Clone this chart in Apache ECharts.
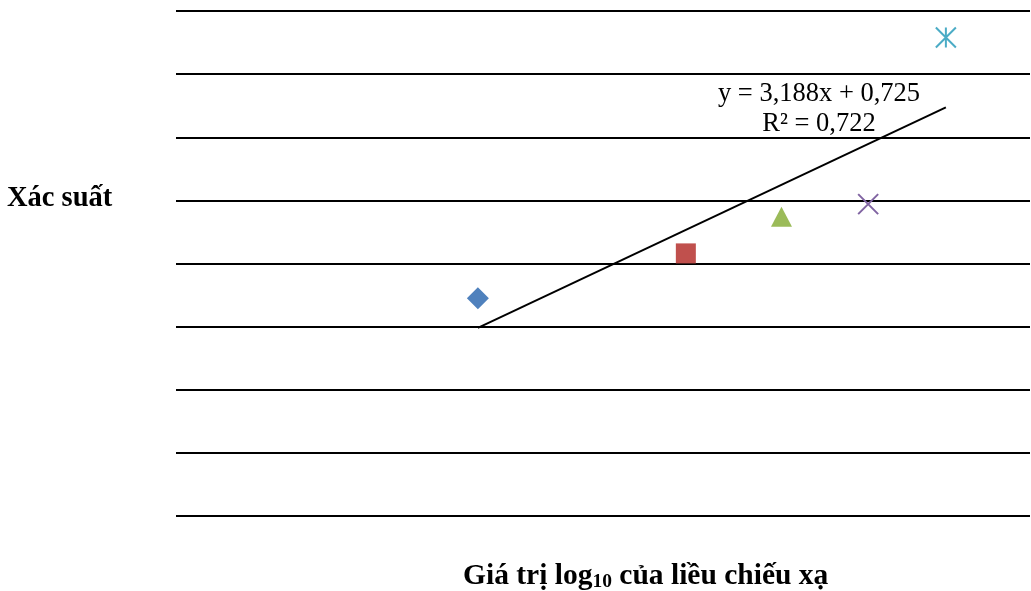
<!DOCTYPE html>
<html>
<head>
<meta charset="utf-8">
<script src="https://cdn.jsdelivr.net/npm/echarts@6/dist/echarts.min.js"></script>
<style>
  html, body { margin: 0; padding: 0; background: #fff; }
  #chart { width: 1031px; height: 591px; }
</style>
</head>
<body>
<div id="chart"></div>
<script>
// dữ liệu
const seriesNames = ['A', 'B', 'C', 'D', 'E'];
const xValues = [0.707, 1.194, 1.418, 1.621, 1.803];
const yValues = [3.45, 4.16, 4.74, 4.94, 7.58];
const markerColors = ['#4F81BD', '#C0504D', '#9BBB59', '#8064A2', '#4BACC6'];
const markerSymbols = [
    'diamond',
    'rect',
    'triangle',
    'path://M0,0L10,10M10,0L0,10',
    'path://M5,0L5,10M0,0L10,10M0,10L10,0'
];
// đường xu hướng
const slope = 3.188;
const intercept = 0.725;
const equationText = 'y = 3,188x + 0,725\nR² = 0,722';

const chart = echarts.init(document.getElementById('chart'));

const xMin = Math.min(...xValues);
const xMax = Math.max(...xValues);
const trendData = [
    [xMin, slope * xMin + intercept],
    [xMax, slope * xMax + intercept]
];

const markerSizes = [22, 20, [21, 20], 20, 20];

const scatterSeries = seriesNames.map((name, i) => {
    const isLine = i >= 3;
    return {
        name: name,
        type: 'scatter',
        data: [[xValues[i], yValues[i]]],
        symbol: markerSymbols[i],
        symbolSize: markerSizes[i],
        itemStyle: isLine
            ? { color: 'rgba(0,0,0,0)', borderColor: markerColors[i], borderWidth: 2, opacity: 1 }
            : { color: markerColors[i], opacity: 1 },
        z: 3
    };
});

const option = {
    animation: false,
    grid: { left: 176, right: 1, top: 11, bottom: 75 },
    xAxis: {
        type: 'value',
        min: 0,
        max: 2,
        axisLine: { show: false },
        axisTick: { show: false },
        axisLabel: { show: false },
        splitLine: { show: false }
    },
    yAxis: {
        type: 'value',
        min: 0,
        max: 8,
        interval: 1,
        axisLine: { show: false },
        axisTick: { show: false },
        axisLabel: { show: false },
        splitLine: { show: true, lineStyle: { color: '#000', width: 2 } }
    },
    series: [
        ...scatterSeries,
        {
            name: 'Trend',
            type: 'line',
            data: trendData,
            symbol: 'none',
            lineStyle: { color: '#000', width: 2 },
            z: 2
        }
    ],
    graphic: [
        {
            type: 'text',
            x: 819,
            y: 79,
            style: {
                text: equationText,
                font: '26.5px "Liberation Serif", serif',
                fill: '#000',
                align: 'center',
                lineHeight: 30
            }
        },
        {
            type: 'text',
            x: 7,
            y: 184,
            style: {
                text: 'Xác suất',
                font: 'bold 28.5px "Liberation Serif", serif',
                fill: '#000'
            }
        },
        {
            type: 'text',
            x: 463,
            y: 560,
            style: {
                rich: {
                    b: { font: 'bold 29.5px "Liberation Serif", serif', fill: '#000' },
                    s: { font: 'bold 19.5px "Liberation Serif", serif', fill: '#000', padding: [12, 0, 0, 0] }
                },
                text: '{b|Giá trị log}{s|10}{b| của liều chiếu xạ}'
            }
        }
    ]
};

chart.setOption(option);
</script>
</body>
</html>
